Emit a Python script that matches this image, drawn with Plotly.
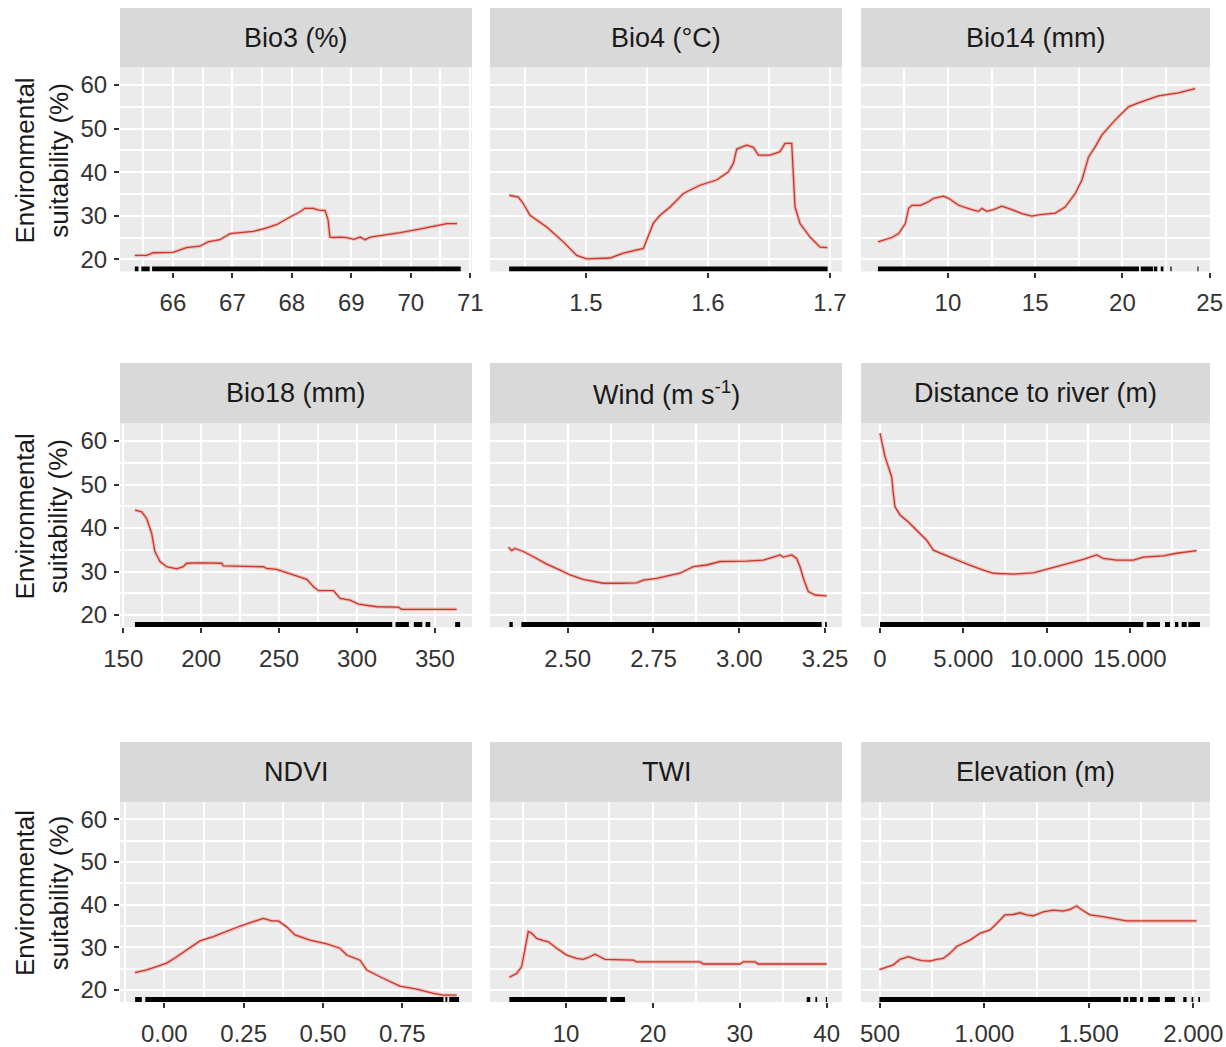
import plotly.graph_objects as go

# ---------------- data ----------------
titles = ["Bio3 (%)", "Bio4 (°C)", "Bio14 (mm)",
          "Bio18 (mm)", "Wind (m s<sup>-1</sup>)", "Distance to river (m)",
          "NDVI", "TWI", "Elevation (m)"]

bio3_x = [65.36, 65.56, 65.67, 66.0, 66.23, 66.45, 66.59, 66.79, 66.96, 67.13, 67.35, 67.58, 67.75, 67.97,
          68.14, 68.22, 68.36, 68.45, 68.56, 68.61, 68.64, 68.70, 68.81, 68.92, 69.04, 69.15, 69.23, 69.32,
          69.54, 69.82, 70.10, 70.38, 70.61, 70.78]
bio3_y = [20.9, 20.9, 21.5, 21.6, 22.7, 23.0, 24.0, 24.5, 25.9, 26.1, 26.4, 27.2, 28.0, 29.7,
          30.9, 31.7, 31.7, 31.3, 31.2, 29.0, 25.1, 25.0, 25.1, 25.0, 24.6, 25.1, 24.5, 25.1,
          25.5, 26.1, 26.8, 27.6, 28.2, 28.2]
bio3_rug = [[65.36, 65.42], [65.47, 65.61], [65.65, 70.84]]
bio3_ticks = [66, 67, 68, 69, 70, 71]
bio3_labels = ["66", "67", "68", "69", "70", "71"]

bio4_x = [1.437, 1.4445, 1.4486, 1.4541, 1.4678, 1.4814, 1.4924, 1.5005, 1.5197, 1.5306, 1.547, 1.5497,
          1.5552, 1.5607, 1.5689, 1.5798, 1.5934, 1.6071, 1.6167, 1.6208, 1.6235, 1.6317, 1.6372, 1.6413,
          1.6508, 1.659, 1.6631, 1.6686, 1.6699, 1.6713, 1.6754, 1.6836, 1.6918, 1.6978]
bio4_y = [34.7, 34.3, 32.8, 30.1, 27.4, 24.0, 20.9, 20.1, 20.3, 21.4, 22.5, 24.4,
          28.3, 30.1, 32.0, 35.1, 37.0, 38.2, 40.1, 42.0, 45.3, 46.2, 45.7, 43.9,
          43.9, 44.7, 46.6, 46.6, 40.5, 32.0, 28.2, 25.1, 22.8, 22.7]
bio4_rug = [[1.437, 1.698]]
bio4_ticks = [1.5, 1.6, 1.7]
bio4_labels = ["1.5", "1.6", "1.7"]

bio14_x = [5.99, 6.79, 7.18, 7.56, 7.75, 7.94, 8.42, 8.89, 9.18, 9.75, 10.04, 10.61, 11.37, 11.76, 11.95,
           12.23, 12.62, 13.09, 13.67, 14.24, 14.81, 15.19, 16.15, 16.72, 17.30, 17.68, 18.06, 18.44,
           18.82, 19.59, 20.35, 20.92, 22.07, 22.64, 23.21, 24.17]
bio14_y = [24.0, 25.0, 25.9, 28.2, 31.7, 32.4, 32.4, 33.2, 34.0, 34.5, 34.0, 32.4, 31.4, 31.0, 31.7,
           31.0, 31.4, 32.2, 31.4, 30.5, 29.9, 30.2, 30.6, 32.0, 35.1, 38.2, 43.5, 45.8,
           48.5, 52.0, 55.0, 55.9, 57.5, 57.9, 58.2, 59.2]
bio14_rug = [[5.99, 20.95], [21.05, 21.75], [21.8, 22.0], [22.2, 22.35], [22.75, 22.82], [24.3, 24.36]]
bio14_ticks = [10, 15, 20, 25]
bio14_labels = ["10", "15", "20", "25"]

bio18_x = [157.5, 161.8, 165.0, 168.2, 170.3, 173.6, 177.8, 184.3, 188.5, 190.7, 199.2, 213.2, 214.2,
           239.9, 242.0, 248.5, 252.8, 259.2, 267.8, 272.1, 275.3, 284.9, 289.2, 295.6, 300.9, 312.7,
           326.6, 328.7, 364.0]
bio18_y = [44.1, 43.7, 42.2, 38.8, 34.6, 32.3, 31.1, 30.6, 31.1, 31.9, 32.0, 31.9, 31.3,
           31.1, 30.7, 30.5, 30.0, 29.2, 28.2, 26.5, 25.6, 25.6, 23.8, 23.4, 22.5, 21.9,
           21.8, 21.3, 21.3]
bio18_rug = [[157.5, 322.6], [324.7, 333.3], [336.5, 341.9], [344.0, 347.0], [363.0, 366.2]]
bio18_ticks = [150, 200, 250, 300, 350]
bio18_labels = ["150", "200", "250", "300", "350"]

wind_x = [2.327, 2.337, 2.346, 2.371, 2.400, 2.439, 2.478, 2.507, 2.545, 2.604, 2.652, 2.701, 2.720,
          2.759, 2.827, 2.866, 2.905, 2.944, 3.022, 3.070, 3.099, 3.119, 3.128, 3.153, 3.167, 3.177,
          3.187, 3.201, 3.221, 3.255]
wind_y = [35.6, 34.8, 35.3, 34.6, 33.4, 31.7, 30.3, 29.2, 28.2, 27.3, 27.3, 27.4, 28.0,
          28.4, 29.6, 31.1, 31.5, 32.3, 32.4, 32.6, 33.3, 33.8, 33.3, 33.8, 33.0, 31.1,
          28.4, 25.4, 24.6, 24.4]
wind_rug = [[2.330, 2.340], [2.365, 3.240], [3.250, 3.255]]
wind_ticks = [2.5, 2.75, 3.0, 3.25]
wind_labels = ["2.50", "2.75", "3.00", "3.25"]

river_x = [0, 100, 300, 500, 700, 800, 900, 1200, 1700, 2200, 2800, 3200, 4200, 5200, 6200, 6800,
           8000, 9200, 10200, 11200, 12200, 13000, 13400, 14200, 15200, 15800, 17000, 17800, 19000]
river_y = [61.8, 60.2, 56.4, 54.1, 51.8, 48.0, 44.9, 43.0, 41.4, 39.5, 37.2, 34.9, 33.3, 31.7, 30.3, 29.6,
           29.4, 29.7, 30.7, 31.7, 32.8, 33.8, 33.0, 32.6, 32.6, 33.3, 33.6, 34.2, 34.8]
river_rug = [[0, 15800], [16000, 16800], [17100, 17400], [17700, 17900], [18100, 18400], [18500, 19200]]
river_ticks = [0, 5000, 10000, 15000]
river_labels = ["0", "5.000", "10.000", "15.000"]

ndvi_x = [-0.0924, -0.0555, -0.024, 0.0076, 0.0391, 0.0706, 0.1125, 0.1545, 0.1967, 0.2386, 0.2805,
          0.312, 0.3385, 0.3593, 0.3858, 0.4119, 0.4592, 0.5118, 0.5537, 0.5748, 0.6168, 0.6379,
          0.6902, 0.7428, 0.7954, 0.8477, 0.8793, 0.9215]
ndvi_y = [24.1, 24.7, 25.5, 26.3, 27.8, 29.4, 31.5, 32.5, 33.7, 35.0, 36.0,
          36.8, 36.2, 36.2, 34.8, 32.9, 31.7, 30.8, 29.8, 28.2, 27.0, 24.7,
          22.7, 20.9, 20.2, 19.2, 18.8, 18.8]
ndvi_rug = [[-0.092, -0.071], [-0.060, 0.880], [0.886, 0.892], [0.898, 0.929]]
ndvi_ticks = [0.0, 0.25, 0.5, 0.75]
ndvi_labels = ["0.00", "0.25", "0.50", "0.75"]

twi_x = [3.48, 4.33, 4.90, 5.28, 5.66, 6.05, 6.63, 7.39, 7.97, 8.93, 10.08, 11.23, 11.99, 12.76, 13.34,
         13.91, 14.49, 17.74, 18.14, 25.42, 25.80, 30.02, 30.40, 31.75, 32.13, 40.0]
twi_y = [23.0, 23.9, 25.5, 29.4, 33.7, 33.3, 32.1, 31.6, 31.3, 29.8, 28.2, 27.4, 27.2, 27.8, 28.4,
         27.8, 27.2, 27.0, 26.6, 26.6, 26.1, 26.1, 26.6, 26.6, 26.1, 26.1]
twi_rug = [[3.48, 14.7], [15.1, 16.8], [37.7, 38.1], [38.7, 38.9], [39.9, 40.05]]
twi_ticks = [10, 20, 30, 40]
twi_labels = ["10", "20", "30", "40"]

elev_x = [497, 532, 564, 596, 636, 676, 700, 739, 771, 803, 835, 867, 931, 979, 1027, 1059, 1098, 1138,
          1170, 1202, 1234, 1282, 1330, 1377, 1410, 1442, 1457, 1505, 1569, 1633, 1681, 2016]
elev_y = [24.8, 25.3, 25.9, 27.2, 27.8, 27.2, 26.9, 26.8, 27.2, 27.4, 28.6, 30.2, 31.7, 33.3, 34.1, 35.6,
          37.6, 37.7, 38.1, 37.6, 37.4, 38.3, 38.7, 38.5, 38.9, 39.7, 39.1, 37.6, 37.2, 36.6, 36.2, 36.2]
elev_rug = [[497, 1653], [1665, 1689], [1697, 1729], [1745, 1760], [1784, 1840], [1864, 1912],
            [1952, 1968], [1992, 2000], [2024, 2032]]
elev_ticks = [500, 1000, 1500, 2000]
elev_labels = ["500", "1.000", "1.500", "2.000"]

y_ticks = [20, 30, 40, 50, 60]
y_labels = ["20", "30", "40", "50", "60"]

# ---------------- layout / styling ----------------
W, H = 1226, 1047
FONT = "Liberation Sans, Arial, Helvetica, sans-serif"
cols_px = [(120, 472), (490, 842), (861, 1210)]
rows_px = [(8, 67.6, 271.5), (363, 423.6, 627.2), (742, 802.2, 1002.0)]
Y_RANGE = [17.2, 64.0]
RUG_Y = 17.8

panels = [
    (bio3_x, bio3_y, bio3_rug, bio3_ticks, bio3_labels, [65.11, 71.03]),
    (bio4_x, bio4_y, bio4_rug, bio4_ticks, bio4_labels, [1.4213, 1.7098]),
    (bio14_x, bio14_y, bio14_rug, bio14_ticks, bio14_labels, [5.02, 25.02]),
    (bio18_x, bio18_y, bio18_rug, bio18_ticks, bio18_labels, [147.9, 373.8]),
    (wind_x, wind_y, wind_rug, wind_ticks, wind_labels, [2.2736, 3.2993]),
    (river_x, river_y, river_rug, river_ticks, river_labels, [-1140, 19800]),
    (ndvi_x, ndvi_y, ndvi_rug, ndvi_ticks, ndvi_labels, [-0.1397, 0.9698]),
    (twi_x, twi_y, twi_rug, twi_ticks, twi_labels, [1.254, 41.76]),
    (elev_x, elev_y, elev_rug, elev_ticks, elev_labels, [409, 2080]),
]

fig = go.Figure()
layout = dict(
    template="none",
    width=W, height=H, autosize=False,
    margin=dict(l=0, r=0, t=0, b=0, pad=0),
    paper_bgcolor="white", plot_bgcolor="#ebebeb",
    showlegend=False, font=dict(family=FONT, color="#333333"),
)
shapes, annotations = [], []

for i, (xs, ys, rug, tv, tt, xr) in enumerate(panels):
    r, c = divmod(i, 3)
    x0, x1 = cols_px[c]
    s0, p0, p1 = rows_px[r]
    n = "" if i == 0 else str(i + 1)
    xa, ya = "x" + n, "y" + n

    step = tv[1] - tv[0]
    minor = [t - step / 2 for t in tv] + [tv[-1] + step / 2]

    layout["xaxis" + n] = dict(
        domain=[x0 / W, x1 / W], anchor=ya, range=xr, automargin=False,
        tickmode="array", tickvals=tv, ticktext=tt,
        ticks="outside", ticklen=5, tickwidth=1.5, tickcolor="#333333",
        tickfont=dict(size=24, color="#333333", family=FONT), ticklabelstandoff=5,
        showgrid=True, gridcolor="white", gridwidth=2.2,
        minor=dict(tickvals=minor, showgrid=True, gridcolor="white", gridwidth=1.5, ticks=""),
        zeroline=False, showline=False, fixedrange=True,
    )
    left = (c == 0)
    layout["yaxis" + n] = dict(
        domain=[1 - p1 / H, 1 - p0 / H], anchor=xa, range=Y_RANGE, automargin=False,
        tickmode="array", tickvals=y_ticks, ticktext=y_labels,
        ticks="outside" if left else "", ticklen=5, tickwidth=1.5, tickcolor="#333333",
        showticklabels=left, tickfont=dict(size=24, color="#333333", family=FONT),
        ticklabelstandoff=2,
        showgrid=True, gridcolor="white", gridwidth=2.2,
        minor=dict(tickvals=[25, 35, 45, 55], showgrid=True, gridcolor="white", gridwidth=1.5, ticks=""),
        zeroline=False, showline=False, fixedrange=True,
    )

    # rug
    rx, ry = [], []
    for a, b in rug:
        rx += [a, b, None]
        ry += [RUG_Y, RUG_Y, None]
    fig.add_trace(go.Scatter(x=rx, y=ry, mode="lines", xaxis=xa, yaxis=ya,
                             line=dict(color="black", width=5), hoverinfo="skip"))
    # halo + response curve
    fig.add_trace(go.Scatter(x=xs, y=ys, mode="lines", xaxis=xa, yaxis=ya,
                             line=dict(color="rgba(235,130,120,0.45)", width=3.5), hoverinfo="skip"))
    fig.add_trace(go.Scatter(x=xs, y=ys, mode="lines", xaxis=xa, yaxis=ya,
                             line=dict(color="#c8372c", width=1.3)))

    # strip
    shapes.append(dict(type="rect", xref="paper", yref="paper",
                       x0=x0 / W, x1=x1 / W, y0=1 - p0 / H, y1=1 - s0 / H,
                       fillcolor="#d9d9d9", line=dict(width=0), layer="below"))
    annotations.append(dict(text=titles[i], xref="paper", yref="paper",
                            x=(x0 + x1) / 2 / W, y=1 - (s0 + p0) / 2 / H,
                            xanchor="center", yanchor="middle", showarrow=False,
                            font=dict(size=27, color="#1a1a1a", family=FONT)))
    if left:
        annotations.append(dict(text="Environmental<br>suitability (%)", xref="paper", yref="paper",
                                x=42 / W, y=1 - ((p0 + p1) / 2 - 9) / H, textangle=-90,
                                xanchor="center", yanchor="middle", showarrow=False,
                                font=dict(size=26, color="#1a1a1a", family=FONT)))

layout["shapes"] = shapes
layout["annotations"] = annotations
fig.update_layout(**layout)
fig.write_html("out.html", config={"displayModeBar": False},
               post_script="document.body.style.margin='0';document.body.style.overflow='hidden';")
